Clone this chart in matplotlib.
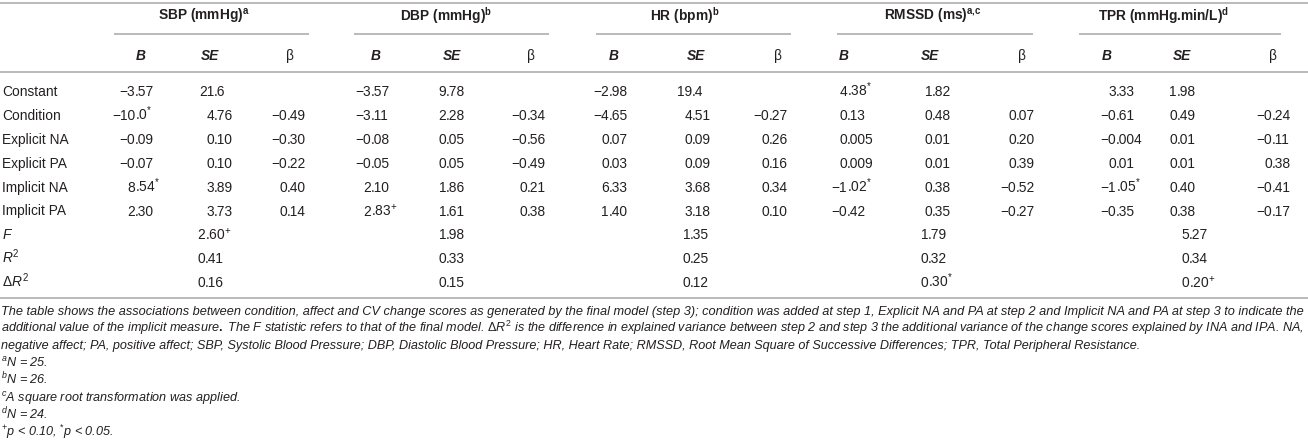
import matplotlib
matplotlib.use("Agg")
import matplotlib.pyplot as plt

# ---- data (as printed in the table) ----
row_labels = ["Constant", "Condition", "Explicit NA", "Explicit PA", "Implicit NA", "Implicit PA"]
group_labels = [r"SBP (mmHg)$^{\mathbf{a}}$", r"DBP (mmHg)$^{\mathbf{b}}$", r"HR (bpm)$^{\mathbf{b}}$",
                r"RMSSD (ms)$^{\mathbf{a{,}c}}$", r"TPR (mmHg.min/L)$^{\mathbf{d}}$"]
sub_labels = ["B", "SE", "β"]

sbp_b = ["−3.57", "−10.0*", "−0.09", "−0.07", "8.54*", "2.30"]
sbp_se = ["21.6", "4.76", "0.10", "0.10", "3.89", "3.73"]
sbp_beta = ["", "−0.49", "−0.30", "−0.22", "0.40", "0.14"]
dbp_b = ["−3.57", "−3.11", "−0.08", "−0.05", "2.10", "2.83+"]
dbp_se = ["9.78", "2.28", "0.05", "0.05", "1.86", "1.61"]
dbp_beta = ["", "−0.34", "−0.56", "−0.49", "0.21", "0.38"]
hr_b = ["−2.98", "−4.65", "0.07", "0.03", "6.33", "1.40"]
hr_se = ["19.4", "4.51", "0.09", "0.09", "3.68", "3.18"]
hr_beta = ["", "−0.27", "0.26", "0.16", "0.34", "0.10"]
rmssd_b = ["4.38*", "0.13", "0.005", "0.009", "−1.02*", "−0.42"]
rmssd_se = ["1.82", "0.48", "0.01", "0.01", "0.38", "0.35"]
rmssd_beta = ["", "0.07", "0.20", "0.39", "−0.52", "−0.27"]
tpr_b = ["3.33", "−0.61", "−0.004", "0.01", "−1.05*", "−0.35"]
tpr_se = ["1.98", "0.49", "0.01", "0.01", "0.40", "0.38"]
tpr_beta = ["", "−0.24", "−0.11", "0.38", "−0.41", "−0.17"]

stat_labels = [r"$F$", r"$R^2$", r"$\Delta R^2$"]
f_values = ["2.60+", "1.98", "1.35", "1.79", "5.27"]
r2_values = ["0.41", "0.33", "0.25", "0.32", "0.34"]
dr2_values = ["0.16", "0.15", "0.12", "0.30*", "0.20+"]

footnotes = [
    "The table shows the associations between condition, affect and CV change scores as generated by the final model (step 3); "
    "condition was added at step 1, Explicit NA and PA at step 2 and Implicit NA and PA at step 3 to indicate the",
    r"additional value of the implicit measure$\mathbf{.}$ The F statistic refers to that of the final model. $\Delta R^2$ is the "
    "difference in explained variance between step 2 and step 3 the additional variance of the change scores explained by INA and IPA. NA,",
    "negative affect; PA, positive affect; SBP, Systolic Blood Pressure; DBP, Diastolic Blood Pressure; HR, Heart Rate; "
    "RMSSD, Root Mean Square of Successive Differences; TPR, Total Peripheral Resistance.",
    r"$^{a}$N = 25.",
    r"$^{b}$N = 26.",
    r"$^{c}$A square root transformation was applied.",
    r"$^{d}$N = 24.",
    r"$^{+}$p < 0.10, $^{*}$p < 0.05.",
]

# ---- layout (pixels) ----
W, H = 1308, 448
col_x = [135, 214, 287, 371, 446, 527, 609, 692, 769, 847, 932, 1016, 1116, 1177, 1272]
head_x = [141, 210, 290, 376, 452, 531, 614, 696, 778, 844, 930, 1022, 1107, 1182, 1273]
group_x = [204, 446, 685, 933, 1164]
line_spans = [(114, 309), (354, 549), (596, 791), (837, 1033), (1079, 1281)]
stat_x = [205, 446, 690, 928, 1189]
row_y = [91 + 23.9 * i for i in range(9)]
foot_y = [310 + 17.4 * i for i in range(8)]
foot_right = 1301  # first two footnote lines run to this x (justified)

plt.rcParams["font.family"] = ["Liberation Sans", "DejaVu Sans"]
plt.rcParams["mathtext.fontset"] = "custom"
plt.rcParams["mathtext.rm"] = "Liberation Sans"
plt.rcParams["mathtext.it"] = "Liberation Sans:italic"
plt.rcParams["mathtext.bf"] = "Liberation Sans:bold"

txt_color = "#231f20"
rule_color = "#b4b4b4"
fs = 13.7 * 0.72
fs_foot = 12.6 * 0.72

fig = plt.figure(figsize=(W / 100, H / 100), dpi=100)
ax = fig.add_axes([0, 0, 1, 1])
ax.set_xlim(0, W)
ax.set_ylim(H, 0)
ax.axis("off")


def sup(s):
    # split trailing significance mark into a superscript
    if s.endswith("*") or s.endswith("+"):
        return s[:-1], r"$^{%s}$" % s[-1]
    return s, ""


def put_num(x, y, s):
    # decimal-aligned number: integer part right of x, fraction left of x
    if not s:
        return
    core, mark = sup(s)
    ip, fp = core.split(".", 1)
    ax.text(x, y + 5, ip, ha="right", va="baseline", fontsize=fs, color=txt_color)
    ax.text(x, y + 5, "." + fp + mark, ha="left", va="baseline", fontsize=fs, color=txt_color)


# rules
for yy in (3, 72, 298):
    ax.plot([0, W], [yy, yy], color=rule_color, lw=1.3, solid_capstyle="butt")
for x0, x1 in line_spans:
    ax.plot([x0, x1], [34, 34], color=rule_color, lw=1.3, solid_capstyle="butt")

# header
for gx, lab in zip(group_x, group_labels):
    ax.text(gx, 21, lab, ha="center", va="baseline", fontsize=fs, fontweight="bold", color=txt_color)
for i, hx in enumerate(head_x):
    lab = sub_labels[i % 3]
    if lab == "β":
        ax.text(hx, 60, lab, ha="center", va="baseline", fontsize=fs, color=txt_color)
    else:
        ax.text(hx, 60, lab, ha="center", va="baseline", fontsize=fs, fontweight="bold",
                fontstyle="italic", color=txt_color)

# body
columns = [sbp_b, sbp_se, sbp_beta, dbp_b, dbp_se, dbp_beta, hr_b, hr_se, hr_beta,
           rmssd_b, rmssd_se, rmssd_beta, tpr_b, tpr_se, tpr_beta]
for r, lab in enumerate(row_labels):
    ax.text(2, row_y[r] + 5, lab, ha="left", va="baseline", fontsize=fs, color=txt_color)
    for c, col in enumerate(columns):
        put_num(col_x[c], row_y[r], col[r])

for k, (lab, vals) in enumerate(zip(stat_labels, [f_values, r2_values, dr2_values])):
    yy = row_y[6 + k]
    ax.text(2, yy + 5, lab, ha="left", va="baseline", fontsize=fs, color=txt_color)
    for sx, v in zip(stat_x, vals):
        put_num(sx, yy, v)

# footnotes
renderer = fig.canvas.get_renderer()
for i, (fy, note) in enumerate(zip(foot_y, footnotes)):
    t = ax.text(1, fy + 4.5, note, ha="left", va="baseline", fontsize=fs_foot, fontstyle="italic",
                color=txt_color)
    if i < 2:
        # the two full lines are justified to the right margin in the original
        wpx = t.get_window_extent(renderer).width
        t.set_fontsize(fs_foot * (foot_right - 1) / wpx)

fig.savefig("out.png", dpi=100)
